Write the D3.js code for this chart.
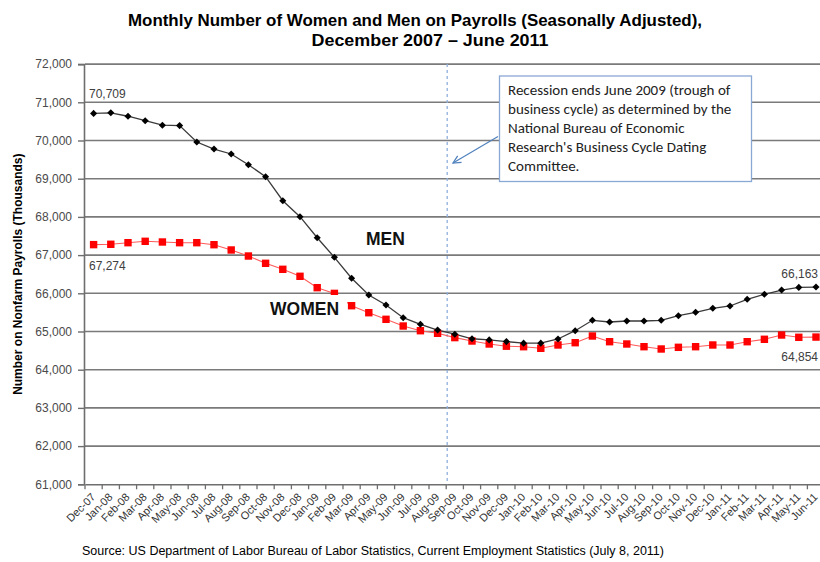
<!DOCTYPE html>
<html>
<head>
<meta charset="utf-8">
<script src="https://cdn.jsdelivr.net/npm/d3@7"></script>
<style>
  html, body { margin: 0; padding: 0; background: #fff; }
  svg { display: block; }
</style>
</head>
<body>
<svg id="chart" width="820" height="562"></svg>
<script>
// ---------- data ----------
const categories = [
  "Dec-07",
  "Jan-08","Feb-08","Mar-08","Apr-08","May-08","Jun-08","Jul-08","Aug-08","Sep-08","Oct-08","Nov-08","Dec-08",
  "Jan-09","Feb-09","Mar-09","Apr-09","May-09","Jun-09","Jul-09","Aug-09","Sep-09","Oct-09","Nov-09","Dec-09",
  "Jan-10","Feb-10","Mar-10","Apr-10","May-10","Jun-10","Jul-10","Aug-10","Sep-10","Oct-10","Nov-10","Dec-10",
  "Jan-11","Feb-11","Mar-11","Apr-11","May-11","Jun-11"
];
const men = [
  70709,
  70725, 70635, 70518, 70400, 70390, 69960, 69777, 69647, 69366, 69052, 68424, 68005,
  67455, 66942, 66393, 65955, 65694, 65361, 65188, 65039, 64930, 64810, 64780, 64735,
  64695, 64695, 64804, 65021, 65293, 65249, 65275, 65275, 65293, 65414, 65503, 65607,
  65668, 65843, 65974, 66086, 66155, 66163
];
const women = [
  67274,
  67283, 67325, 67361, 67343, 67325, 67325, 67272, 67134, 66976, 66785, 66628, 66445,
  66147, 65998, 65675, 65492, 65319, 65144, 65021, 64953, 64840, 64751, 64673, 64615,
  64602, 64560, 64647, 64707, 64882, 64733, 64673, 64602, 64542, 64586, 64602, 64647,
  64647, 64733, 64796, 64908, 64848, 64854
];
const yTicks = [61000, 62000, 63000, 64000, 65000, 66000, 67000, 68000, 69000, 70000, 71000, 72000];
const titleLines = ["Monthly Number of Women and Men on Payrolls (Seasonally Adjusted),", "December 2007 \u2013 June 2011"];
const yAxisTitle = "Number on Nonfarm Payrolls (Thousands)";
const sourceText = "Source: US Department of Labor Bureau of Labor Statistics, Current Employment Statistics (July 8, 2011)";
const noteLines = [
  "Recession ends June 2009 (trough of",
  "business cycle) as determined by the",
  "National Bureau of Economic",
  "Research's Business Cycle Dating",
  "Committee."
];
const recessionMarkCategory = "Sep-09";
const seriesLabels = { men: "MEN", women: "WOMEN" };

// ---------- layout ----------
const svg = d3.select("#chart");
const plot = { left: 85, right: 824.6, top: 64.1, bottom: 484.3 };

const x = d3.scaleBand().domain(categories).range([plot.left, plot.right]).padding(0);
const y = d3.scaleLinear().domain([61000, 72000]).range([plot.bottom, plot.top]);
const cx = d => x(d) + x.bandwidth() / 2;
const fmt = d3.format(",");

// title
svg.selectAll("text.title").data(titleLines).join("text")
  .attr("class", "title")
  .attr("x", (d, i) => i === 0 ? 415 : 430)
  .attr("y", (d, i) => i === 0 ? 26 : 46)
  .attr("text-anchor", "middle")
  .attr("font-family", "'Liberation Sans Narrow', 'Arial Narrow', 'Liberation Sans', Arial, sans-serif")
  .attr("font-weight", "bold")
  .attr("font-size", 17)
  .attr("textLength", (d, i) => i === 0 ? 574 : 237)
  .attr("lengthAdjust", "spacingAndGlyphs")
  .attr("fill", "#000")
  .text(d => d);

// gridlines
svg.append("g").selectAll("line").data(yTicks.filter(t => t > 61000)).join("line")
  .attr("x1", plot.left).attr("x2", 820)
  .attr("y1", d => y(d)).attr("y2", d => y(d))
  .attr("stroke", "#7a7a7a").attr("stroke-width", 1.6);

// y axis
const yAxis = d3.axisLeft(y).tickValues(yTicks).tickFormat(fmt).tickSize(6).tickPadding(6);
const gy = svg.append("g").attr("transform", `translate(${plot.left - 1},0)`).call(yAxis);
gy.select(".domain").attr("stroke", "#6e6e6e").attr("stroke-width", 1.6);
gy.selectAll(".tick line").attr("stroke", "#6e6e6e").attr("stroke-width", 1.4);
gy.selectAll(".tick text")
  .attr("font-family", "'Liberation Sans', Arial, sans-serif")
  .attr("font-size", 12).attr("fill", "#4a4a4a");

// x axis
const xAxis = d3.axisBottom(x).tickSize(0).tickFormat(d => d);
const gx = svg.append("g").attr("transform", `translate(0,${plot.bottom})`).call(xAxis);
gx.select(".domain").attr("stroke", "#6e6e6e").attr("stroke-width", 1.6);
gx.selectAll(".tick text")
  .attr("font-family", "'Liberation Sans', Arial, sans-serif")
  .attr("font-size", 11).attr("fill", "#333")
  .attr("text-anchor", "end")
  .attr("transform", "translate(-3,8) rotate(-45)")
  .attr("x", 0).attr("y", 0).attr("dy", "0.7em");
// boundary tick marks (between categories)
svg.append("g").selectAll("line").data(categories.concat(["__end"])).join("line")
  .attr("x1", (d, i) => plot.left + i * x.step()).attr("x2", (d, i) => plot.left + i * x.step())
  .attr("y1", plot.bottom).attr("y2", plot.bottom + 5)
  .attr("stroke", "#6e6e6e").attr("stroke-width", 1.3);

// y axis title
svg.append("text")
  .attr("transform", `translate(22,${(plot.top + plot.bottom) / 2}) rotate(-90)`)
  .attr("text-anchor", "middle")
  .attr("font-family", "'Liberation Sans', Arial, sans-serif")
  .attr("font-weight", "bold").attr("font-size", 12).attr("fill", "#000")
  .text(yAxisTitle);

// recession dashed line
svg.append("line")
  .attr("x1", x(recessionMarkCategory) + 1).attr("x2", x(recessionMarkCategory) + 1)
  .attr("y1", plot.top).attr("y2", plot.bottom)
  .attr("stroke", "#8fb0dc").attr("stroke-width", 1.3).attr("stroke-dasharray", "3,3");

// lines
const lineGen = d3.line().x((d, i) => cx(categories[i])).y(d => y(d));
svg.append("path").datum(women).attr("d", lineGen)
  .attr("fill", "none").attr("stroke", "#ff5a5a").attr("stroke-width", 1.1);
svg.append("path").datum(men).attr("d", lineGen)
  .attr("fill", "none").attr("stroke", "#3a3a3a").attr("stroke-width", 1.3);

// markers
svg.append("g").selectAll("rect").data(women).join("rect")
  .attr("x", (d, i) => cx(categories[i]) - 3.7).attr("y", d => y(d) - 3.7)
  .attr("width", 7.4).attr("height", 7.4).attr("fill", "#ff0000");
const diamond = d3.symbol().type(d3.symbolDiamond2).size(32);
svg.append("g").selectAll("path").data(men).join("path")
  .attr("d", diamond)
  .attr("transform", (d, i) => `translate(${cx(categories[i])},${y(d)})`)
  .attr("fill", "#000");

// MEN / WOMEN labels
svg.append("text").attr("x", 366).attr("y", 245)
  .attr("font-family", "'Liberation Sans', Arial, sans-serif")
  .attr("font-weight", "bold").attr("font-size", 17.5).attr("fill", "#111")
  .text(seriesLabels.men);
svg.append("rect").attr("x", 264).attr("y", 295).attr("width", 83).attr("height", 30).attr("fill", "#fff");
svg.append("text").attr("x", 270).attr("y", 315)
  .attr("font-family", "'Liberation Sans', Arial, sans-serif")
  .attr("font-weight", "bold").attr("font-size", 17.5).attr("fill", "#111")
  .text(seriesLabels.women);

// data labels
const dl = [
  { v: men[0], x: 89, y: 98, anchor: "start" },
  { v: women[0], x: 89, y: 270, anchor: "start" },
  { v: men[men.length - 1], x: 818, y: 278, anchor: "end" },
  { v: women[women.length - 1], x: 818, y: 361, anchor: "end" }
];
svg.append("g").selectAll("text").data(dl).join("text")
  .attr("x", d => d.x).attr("y", d => d.y).attr("text-anchor", d => d.anchor)
  .attr("font-family", "'Liberation Sans', Arial, sans-serif")
  .attr("font-size", 12).attr("fill", "#404040")
  .text(d => fmt(d.v));

// annotation
svg.append("defs").append("marker")
  .attr("id", "arrow").attr("viewBox", "0 0 10 10").attr("refX", 9).attr("refY", 5)
  .attr("markerWidth", 8).attr("markerHeight", 8).attr("orient", "auto")
  .append("path").attr("d", "M1,1 L9,5 L1,9").attr("fill", "none").attr("stroke", "#4f81bd").attr("stroke-width", 1.3);
svg.append("line").attr("x1", 498).attr("y1", 136.5).attr("x2", 453).attr("y2", 163)
  .attr("stroke", "#4f81bd").attr("stroke-width", 1.2).attr("marker-end", "url(#arrow)");
svg.append("rect").attr("x", 499.5).attr("y", 76).attr("width", 252).attr("height", 105.5)
  .attr("fill", "#fff").attr("stroke", "#8aa8d4").attr("stroke-width", 1.3);
svg.append("g").selectAll("text").data(noteLines).join("text")
  .attr("x", 508).attr("y", (d, i) => 95 + i * 19)
  .attr("font-family", "Carlito, Calibri, Lato, 'Open Sans', sans-serif")
  .attr("font-size", 15).attr("fill", "#222")
  .text(d => d);

// source
svg.append("text").attr("x", 82).attr("y", 555)
  .attr("font-family", "'Liberation Sans', Arial, sans-serif")
  .attr("font-size", 12.5).attr("fill", "#000")
  .text(sourceText);
</script>
</body>
</html>
